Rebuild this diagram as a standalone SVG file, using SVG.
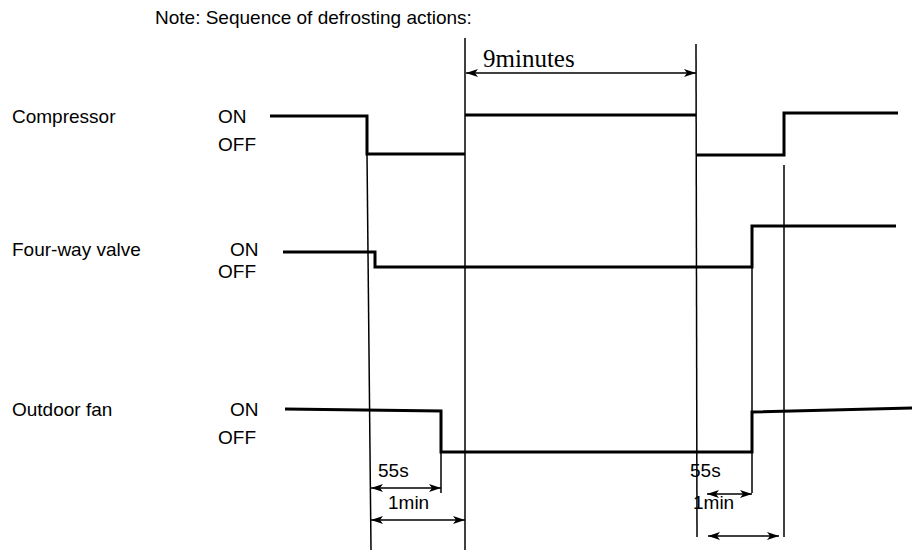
<svg xmlns="http://www.w3.org/2000/svg" width="917" height="555" viewBox="0 0 917 555">
<defs>
<style>
.t{font-family:"Liberation Sans",Arial,sans-serif;font-size:19px;fill:#000}
.tm{font-family:"Liberation Serif","Times New Roman",serif;font-size:25px;fill:#000}
.sig{fill:none;stroke:#000;stroke-width:3}
.thin{fill:none;stroke:#000;stroke-width:1.5}
.arr{fill:none;stroke:#000;stroke-width:1.5;marker-start:url(#ah);marker-end:url(#ah)}
</style>
<marker id="ah" viewBox="0 0 12 8" refX="12" refY="4" markerWidth="12" markerHeight="8" markerUnits="userSpaceOnUse" orient="auto-start-reverse">
<path d="M0,0 L12,4 L0,8 L3,4 Z" fill="#000"/>
</marker>
</defs>
<rect width="917" height="555" fill="#fff"/>
<text class="t" x="155" y="24">Note: Sequence of defrosting actions:</text>
<g id="compressor">
<text class="t" x="12" y="123">Compressor</text>
<text class="t" x="218" y="123">ON</text>
<text class="t" x="218" y="151">OFF</text>
<path class="sig" d="M270,116 H367 V154 H465"/>
<path class="sig" d="M465,115 H696"/>
<path class="sig" d="M697,155 H784 V113 H898"/>
</g>
<g id="four-way-valve">
<text class="t" x="12" y="256">Four-way valve</text>
<text class="t" x="230" y="256">ON</text>
<text class="t" x="218" y="278">OFF</text>
<path class="sig" d="M283,252 H375 V267 H752 V226 H896"/>
</g>
<g id="outdoor-fan">
<text class="t" x="12" y="416">Outdoor fan</text>
<text class="t" x="230" y="416">ON</text>
<text class="t" x="218" y="444">OFF</text>
<path class="sig" d="M285,409 L441,411 V452 H752 V412 L912,408"/>
</g>
<g id="connectors">
<path class="thin" d="M367,154 L371,550"/>
<path class="thin" d="M465,38 V550"/>
<path class="thin" d="M696,44 L697,537"/>
<path class="thin" d="M784,165 V537"/>
<path class="thin" d="M441,452 V493"/>
<path class="thin" d="M752,226 V493"/>
<path class="arr" d="M466,73 H696"/>
<path class="arr" d="M371,488 H441"/>
<path class="arr" d="M371,520 H465"/>
<path class="arr" d="M707,494 H752"/>
<path class="arr" d="M708,536 H779"/>
</g>
<g id="labels">
<text class="tm" x="483" y="67">9minutes</text>
<text class="t" x="378" y="477">55s</text>
<text class="t" x="388" y="509">1min</text>
<text class="t" x="690" y="477">55s</text>
<text class="t" x="693" y="509">1min</text>
</g>
</svg>
